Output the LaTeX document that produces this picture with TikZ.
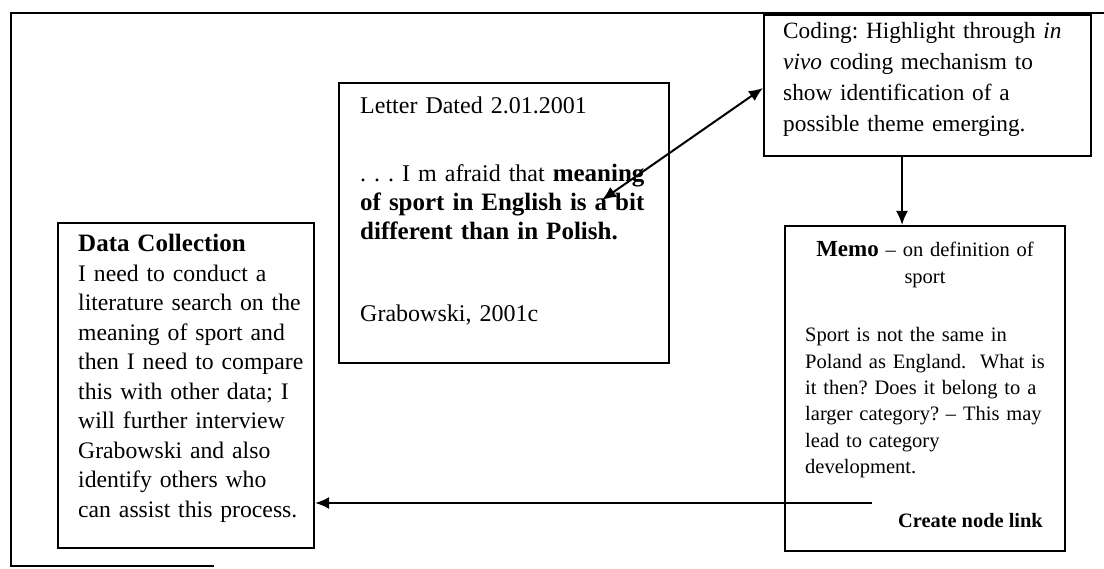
\documentclass[tikz,border=0pt]{standalone}
\usepackage{fontspec}
\setmainfont{Liberation Serif}
\usetikzlibrary{arrows.meta,calc}
\frenchspacing
\tikzset{
  panel/.style={draw, line width=2.1pt, inner sep=0pt, anchor=north west},
  txt/.style={anchor=base west, inner sep=0pt, align=left, text width=330pt},
  link/.style={line width=2pt, -{Latex[length=14pt,width=12pt]}},
  biglink/.style={line width=2pt, {Latex[length=14pt,width=12pt]}-{Latex[length=14pt,width=12pt]}},
  frameline/.style={line width=2.6pt, line cap=rect}
}
\newcommand{\bfbig}[1]{{\fontsize{25}{29}\selectfont\bfseries #1}}
\begin{document}
\begin{tikzpicture}[x=1pt,y=-1pt]
\useasboundingbox (0,0) rectangle (1104,569);

% outer frame (open on the right and bottom)
\draw[frameline] (1104,13) -- (11,13) -- (11,566) -- (213,566);

% boxes
\node[panel, minimum width=256pt, minimum height=325pt] (data)   at (57,222) {};
\node[panel, minimum width=330pt, minimum height=280pt] (letter) at (338,82) {};
\node[panel, minimum width=327pt, minimum height=141pt] (coding) at (763,14) {};
\node[panel, minimum width=280pt, minimum height=325pt] (memo)   at (784,225) {};

% box texts
\node[txt, font=\fontsize{23.7}{29.5}\selectfont] (datatext) at (78,252)
  {{\fontsize{25}{29.5}\selectfont\bfseries Data Collection}\\
   I need to conduct a\\
   literature search on the\\
   meaning of sport and\\
   then I need to compare\\
   this with other data; I\\
   will further interview\\
   Grabowski and also\\
   identify others who\\
   can assist this process.};

\node[txt, font=\fontsize{24}{28}\selectfont] (lettertitle) at (360,114)
  {Letter Dated 2.01.2001};
\node[txt, font=\fontsize{24}{29}\selectfont] (letterquote) at (360,182)
  {.~.~.~I m afraid that \bfbig{meaning}\\
   \bfbig{of sport in English is a bit}\\
   \bfbig{different than in Polish.}};
\node[txt, font=\fontsize{24}{28}\selectfont] (lettersource) at (360,322)
  {Grabowski, 2001c};

\node[txt, font=\fontsize{23.3}{31}\selectfont] (codingtext) at (783,39)
  {Coding: Highlight through \textit{in}\\
   \textit{vivo} coding mechanism to\\
   show identification of a\\
   possible theme emerging.};

\node[anchor=base, inner sep=0pt, align=center, text width=270pt,
      font=\fontsize{20.5}{27}\selectfont]
  (memohead) at (925,257)
  {{\fontsize{23}{27}\selectfont\bfseries Memo} -- on definition of\\ sport};
\node[txt, font=\fontsize{20.5}{26.3}\selectfont] (memotext) at (805,342)
  {Sport is not the same in\\
   Poland as England.\ \ What is\\
   it then? Does it belong to a\\
   larger category? -- This may\\
   lead to category\\
   development.};
\node[anchor=base east, inner sep=0pt, font=\fontsize{20.4}{24}\selectfont\bfseries]
  (memolink) at (1043,527) {Create node link};

% connectors
\coordinate (drop) at (902,0);
\coordinate (quotemark) at (602,200);
\coordinate (linkstart) at (872,503);
\draw[biglink] (quotemark) -- ($(coding.north west)+(0,74)$);
\draw[link] (coding.south -| drop) -- (memo.north -| drop);
\draw[link] (linkstart) -- (data.east |- linkstart);
\end{tikzpicture}
\end{document}
